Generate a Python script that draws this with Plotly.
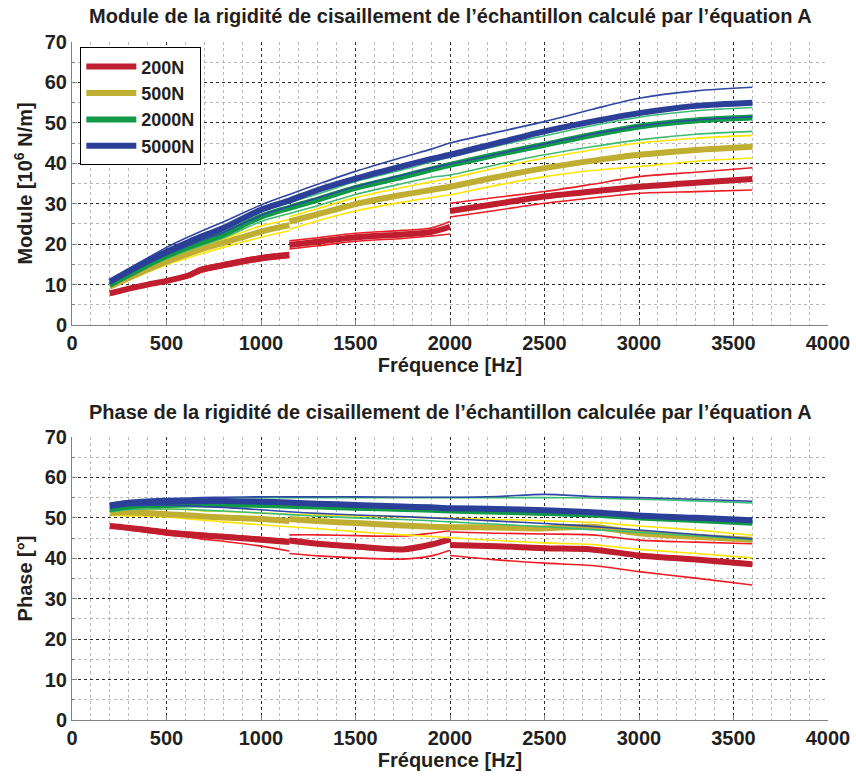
import plotly.graph_objects as go

# ---------------- data ----------------
# repeated frequencies mark a discontinuity (measurement segment change)
freq = [200, 250, 300, 400, 500, 620, 680, 800, 1000, 1150, 1150, 1300, 1500,
        1750, 1900, 2000, 2000, 2250, 2500, 2750, 3000, 3300, 3600]

forces = ["200N", "500N", "2000N", "5000N"]

# Module [10^6 N/m]
mod_200_mean = [7.8, 8.4, 9.0, 10.0, 10.9, 12.3, 13.6, 14.8, 16.5, 17.3, 19.8, 20.6, 21.7,
                22.4, 23.0, 24.3, 28.2, 30.0, 31.8, 33.0, 34.2, 35.2, 36.1]
mod_200_up = [8.2, 8.8, 9.4, 10.4, 11.3, 12.8, 14.2, 15.4, 17.1, 17.9, 20.8, 21.6, 22.7,
              23.4, 24.0, 25.6, 30.1, 31.6, 33.0, 34.8, 36.7, 37.8, 38.9]
mod_200_lo = [7.4, 8.0, 8.6, 9.6, 10.5, 11.8, 13.0, 14.2, 15.9, 16.7, 18.8, 19.6, 20.7,
              21.4, 22.0, 22.5, 26.7, 28.4, 30.1, 31.4, 32.6, 33.0, 33.4]

mod_500_mean = [9.5, 10.6, 11.6, 13.7, 15.7, 17.7, 18.7, 20.3, 23.1, 24.7, 25.6, 27.4, 29.9,
                32.2, 33.4, 34.2, 34.2, 36.6, 38.8, 40.6, 42.1, 43.3, 44.1]
mod_500_up = [9.8, 11.0, 12.1, 14.3, 16.3, 18.5, 19.5, 21.3, 24.5, 26.1, 26.8, 28.8, 31.5,
              34.0, 35.4, 36.3, 36.3, 38.9, 41.3, 43.3, 45.0, 46.2, 46.9]
mod_500_lo = [9.1, 10.2, 11.1, 13.1, 14.9, 16.7, 17.6, 19.2, 21.7, 23.3, 23.7, 25.8, 28.2,
              30.4, 31.5, 32.2, 32.2, 34.6, 36.7, 38.2, 39.2, 40.5, 41.3]

mod_2000_mean = [9.9, 11.2, 12.4, 14.9, 17.1, 19.4, 20.4, 22.4, 26.8, 29.0, 29.0, 31.0, 33.9,
                 36.7, 38.5, 39.6, 39.6, 42.2, 44.6, 47.0, 49.1, 50.6, 51.3]
mod_2000_up = [10.3, 11.7, 12.9, 15.5, 17.8, 20.3, 21.3, 23.4, 28.0, 30.3, 30.3, 32.4, 35.5,
               38.4, 40.3, 41.5, 41.5, 44.3, 46.8, 49.3, 51.4, 53.0, 53.8]
mod_2000_lo = [9.5, 10.8, 11.9, 14.3, 16.4, 18.6, 19.6, 21.5, 25.6, 27.6, 27.6, 29.5, 32.3,
               35.0, 36.5, 37.1, 37.1, 39.7, 42.1, 44.1, 45.8, 47.2, 47.9]

mod_5000_mean = [10.7, 12.0, 13.3, 15.8, 18.1, 20.6, 21.8, 24.0, 28.5, 30.8, 30.8, 33.4, 36.2,
                 39.3, 41.1, 42.1, 42.1, 45.0, 47.9, 50.3, 52.4, 54.2, 55.0]
mod_5000_up = [11.1, 12.5, 13.9, 16.6, 19.2, 21.9, 23.1, 25.5, 29.7, 32.3, 32.3, 34.8, 38.0,
               41.5, 43.5, 45.0, 45.0, 47.7, 50.3, 53.3, 56.1, 57.9, 58.8]
mod_5000_lo = [10.2, 11.5, 12.7, 15.2, 17.4, 19.7, 20.9, 22.9, 27.1, 29.3, 29.3, 31.4, 34.2,
               37.1, 38.8, 39.8, 39.8, 42.3, 44.8, 47.2, 49.2, 50.7, 51.5]

# Phase [°]
ph_200_mean = [48.0, 47.8, 47.5, 47.0, 46.4, 45.9, 45.7, 45.3, 44.6, 44.0, 44.4, 43.6, 42.9,
               42.2, 43.4, 44.7, 43.3, 43.0, 42.5, 42.2, 40.7, 39.7, 38.5]
ph_200_up = [48.3, 48.1, 47.9, 47.4, 46.9, 46.4, 46.2, 45.8, 45.2, 44.6, 45.8, 45.8, 45.6,
             45.5, 46.2, 46.8, 46.5, 46.2, 46.0, 45.8, 44.5, 44.0, 43.6]
ph_200_lo = [47.6, 47.3, 47.0, 46.4, 45.8, 45.2, 44.8, 44.2, 43.0, 41.8, 41.2, 40.6, 40.1,
             39.8, 40.6, 42.0, 40.7, 39.6, 38.8, 38.2, 36.7, 35.1, 33.4]

ph_500_mean = [51.2, 51.3, 51.3, 51.2, 50.9, 50.6, 50.4, 50.1, 49.7, 49.2, 49.7, 49.2, 48.7,
               48.1, 47.8, 47.7, 47.7, 47.6, 47.4, 47.8, 46.2, 45.3, 44.6]
ph_500_up = [51.8, 52.0, 52.1, 52.2, 52.2, 52.0, 51.8, 51.6, 51.2, 50.9, 50.9, 50.7, 50.5,
             50.2, 50.0, 49.9, 49.9, 49.6, 49.3, 48.9, 48.0, 47.0, 45.7]
ph_500_lo = [50.6, 50.6, 50.5, 50.4, 50.2, 49.7, 49.5, 49.0, 48.3, 47.8, 47.8, 47.3, 46.6,
             45.8, 45.4, 45.1, 45.1, 44.4, 43.8, 43.4, 42.2, 41.2, 40.1]

ph_2000_mean = [52.2, 52.5, 52.8, 53.1, 53.2, 53.3, 53.3, 53.3, 53.2, 53.0, 53.0, 52.8, 52.5,
                52.2, 52.0, 51.8, 51.8, 51.5, 51.2, 50.8, 50.1, 49.5, 48.8]
ph_2000_up = [53.0, 53.4, 53.7, 54.1, 54.4, 54.6, 54.8, 54.9, 55.0, 55.0, 55.0, 55.0, 55.0,
              55.0, 55.0, 55.0, 55.0, 55.0, 55.0, 54.9, 54.6, 54.2, 53.7]
ph_2000_lo = [51.5, 51.8, 52.0, 52.2, 52.2, 52.1, 51.9, 51.7, 51.2, 50.8, 50.8, 50.4, 50.0,
              49.6, 49.3, 49.0, 49.0, 48.4, 47.8, 47.1, 46.4, 45.5, 44.6]

ph_5000_mean = [53.0, 53.4, 53.7, 53.9, 54.0, 54.1, 54.1, 54.2, 54.0, 53.8, 53.8, 53.5, 53.2,
                52.8, 52.6, 52.4, 52.4, 52.2, 51.9, 51.4, 50.6, 50.0, 49.4]
ph_5000_up = [53.6, 54.0, 54.3, 54.6, 54.8, 54.9, 55.0, 55.1, 55.2, 55.2, 55.2, 55.2, 55.2,
              55.1, 55.1, 55.1, 55.1, 55.3, 55.8, 55.3, 55.0, 54.6, 54.1]
ph_5000_lo = [52.4, 52.7, 53.0, 53.1, 53.1, 53.0, 52.8, 52.6, 52.0, 51.5, 51.5, 51.1, 50.7,
              50.3, 50.0, 49.8, 49.8, 49.2, 48.6, 47.9, 47.0, 45.9, 44.8]

x_ticks = [0, 500, 1000, 1500, 2000, 2500, 3000, 3500, 4000]
y_ticks = [0, 10, 20, 30, 40, 50, 60, 70]

# ---------------- styling ----------------
mean_colors = ["#BE1E2D", "#C0AE32", "#109A48", "#2B3F99"]
thin_colors = ["#EE1C25", "#FFE500", "#3DBB73", "#2E48A3"]

module_sets = [(mod_200_mean, mod_200_up, mod_200_lo),
               (mod_500_mean, mod_500_up, mod_500_lo),
               (mod_2000_mean, mod_2000_up, mod_2000_lo),
               (mod_5000_mean, mod_5000_up, mod_5000_lo)]
phase_sets = [(ph_200_mean, ph_200_up, ph_200_lo),
              (ph_500_mean, ph_500_up, ph_500_lo),
              (ph_2000_mean, ph_2000_up, ph_2000_lo),
              (ph_5000_mean, ph_5000_up, ph_5000_lo)]


def segmented(xs, ys):
    """Repeated x = segment break: gap if value changes, merge otherwise."""
    ox, oy = [], []
    for i, (x, y) in enumerate(zip(xs, ys)):
        if i > 0 and x == xs[i - 1]:
            if y == ys[i - 1]:
                continue
            ox.append(None)
            oy.append(None)
        ox.append(x)
        oy.append(y)
    return ox, oy


FONT = "Liberation Sans, Arial, Helvetica, sans-serif"
TXT = "#231F20"

fig = go.Figure()

for sets, xa, ya, show in [(module_sets, "x", "y", True), (phase_sets, "x2", "y2", False)]:
    for i, (mean, up, lo) in enumerate(sets):
        for thin in (up, lo):
            sx, sy = segmented(freq, thin)
            fig.add_trace(go.Scatter(x=sx, y=sy, mode="lines", xaxis=xa, yaxis=ya,
                                     line=dict(color=thin_colors[i], width=1.6,
                                               shape="spline", smoothing=0.8),
                                     connectgaps=False,
                                     showlegend=False, hoverinfo="skip"))
        sx, sy = segmented(freq, mean)
        fig.add_trace(go.Scatter(x=sx, y=sy, mode="lines", xaxis=xa, yaxis=ya,
                                 name=forces[i], legendgroup=forces[i],
                                 line=dict(color=mean_colors[i], width=6,
                                           shape="spline", smoothing=0.8),
                                 connectgaps=False, showlegend=show))

H_TOP = [0.5826, 1.0]
H_BOT = [0.0, 0.4174]


def xaxis_cfg(anchor):
    return dict(anchor=anchor, domain=[0, 1], range=[0, 4000], tickvals=x_ticks,
                ticktext=[str(v) for v in x_ticks], automargin=False,
                ticks="inside", ticklen=5, tickcolor="#808080",
                showline=True, linecolor="#808080", linewidth=1, mirror=False,
                showgrid=True, gridcolor="#2a2a2a", griddash="dot", gridwidth=1,
                zeroline=False,
                minor=dict(dtick=100, tick0=0, showgrid=True, gridcolor="#b8b8b8",
                           griddash="dot", gridwidth=1, ticks=""),
                tickfont=dict(family=FONT, size=20, color=TXT, weight="bold"),
                title=dict(text="Fréquence [Hz]", standoff=3,
                           font=dict(family=FONT, size=20, color=TXT, weight="bold")))


def yaxis_cfg(anchor, dom, title):
    return dict(anchor=anchor, domain=dom, range=[0, 70], tickvals=y_ticks,
                ticktext=[str(v) for v in y_ticks], automargin=False,
                ticks="inside", ticklen=5, tickcolor="#808080",
                showline=True, linecolor="#808080", linewidth=1, mirror=False,
                showgrid=True, gridcolor="#2a2a2a", griddash="dot", gridwidth=1,
                zeroline=False,
                minor=dict(dtick=5, tick0=0, showgrid=True, gridcolor="#b8b8b8",
                           griddash="dot", gridwidth=1, ticks="inside", ticklen=3,
                           tickcolor="#808080"),
                tickfont=dict(family=FONT, size=20, color=TXT, weight="bold"),
                title=dict(text=title, standoff=6,
                           font=dict(family=FONT, size=20, color=TXT, weight="bold")))


fig.update_layout(
    width=856, height=778,
    margin=dict(l=72, r=28, t=42, b=58),
    paper_bgcolor="white", plot_bgcolor="white",
    font=dict(family=FONT, color=TXT),
    xaxis=xaxis_cfg("y"),
    yaxis=yaxis_cfg("x", H_TOP, "Module [10<sup>6</sup> N/m]"),
    xaxis2=xaxis_cfg("y2"),
    yaxis2=yaxis_cfg("x2", H_BOT, "Phase [°]"),
    legend=dict(x=0.011, y=0.992, xanchor="left", yanchor="top",
                bgcolor="white", bordercolor="#000000", borderwidth=1,
                font=dict(family=FONT, size=18, color=TXT, weight="bold"),
                itemwidth=50, tracegroupgap=0),
    showlegend=True,
    annotations=[
        dict(text="Module de la rigidité de cisaillement de l’échantillon calculé par l’équation A",
             xref="paper", yref="paper", x=0.5, y=1.0383, xanchor="center", yanchor="middle",
             showarrow=False, font=dict(family=FONT, size=20, color=TXT, weight="bold")),
        dict(text="Phase de la rigidité de cisaillement de l’échantillon calculée par l’équation A",
             xref="paper", yref="paper", x=0.5, y=0.4543, xanchor="center", yanchor="middle",
             showarrow=False, font=dict(family=FONT, size=20, color=TXT, weight="bold")),
    ],
)

fig.write_html("out.html",
               config={"displayModeBar": False},
               post_script="document.body.style.margin='0';document.body.style.overflow='hidden';")
